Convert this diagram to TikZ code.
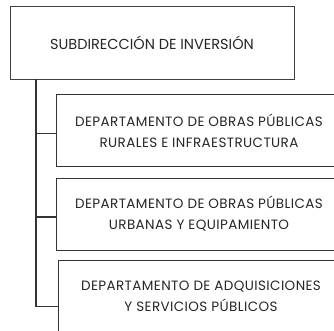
\documentclass[tikz,border=0pt]{standalone}
\usepackage{fontspec}
\setmainfont{Poppins}
\newfontfamily\deptfont[LetterSpace=3]{Poppins}
\usetikzlibrary{positioning}

\begin{document}
\begin{tikzpicture}[x=1pt, y=-1pt,
  jefe/.style={draw=black!75, line width=0.8pt, minimum width=284pt, minimum height=73pt, text=black!85, font=\fontsize{14.5}{17}\selectfont},
  depto/.style={draw=black!80, line width=0.8pt, align=center, minimum width=286pt, minimum height=72pt, text=black!85, font=\deptfont\fontsize{13.5}{21}\selectfont},
  rama/.style={draw=black!80, line width=1.1pt}]
\useasboundingbox (0,0) rectangle (334,331);
\clip (0,0) rectangle (334,331);
\node[jefe]  (sub) at (152,42.5)  {SUBDIRECCIÓN DE INVERSIÓN};
\node[depto] (d1)  at (199,130.5) {DEPARTAMENTO DE OBRAS PÚBLICAS\\RURALES E INFRAESTRUCTURA};
\node[depto] (d2)  at (199,214)   {DEPARTAMENTO DE OBRAS PÚBLICAS\\URBANAS Y EQUIPAMIENTO};
\node[depto, minimum height=73pt] (d3) at (201,296.5) {DEPARTAMENTO DE ADQUISICIONES\\Y SERVICIOS PÚBLICOS};
% ramas del organigrama
\coordinate (tronco) at (36,79);
\coordinate (c1) at ([yshift=-3pt]d1.west);
\coordinate (c2) at ([yshift=-3pt]d2.west);
\coordinate (c3) at ([yshift=-10pt]d3.west);
\draw[rama] (tronco) |- (c3);
\foreach \c in {c1,c2}
  \draw[rama] (tronco |- \c) -- (\c);
\end{tikzpicture}
\end{document}
